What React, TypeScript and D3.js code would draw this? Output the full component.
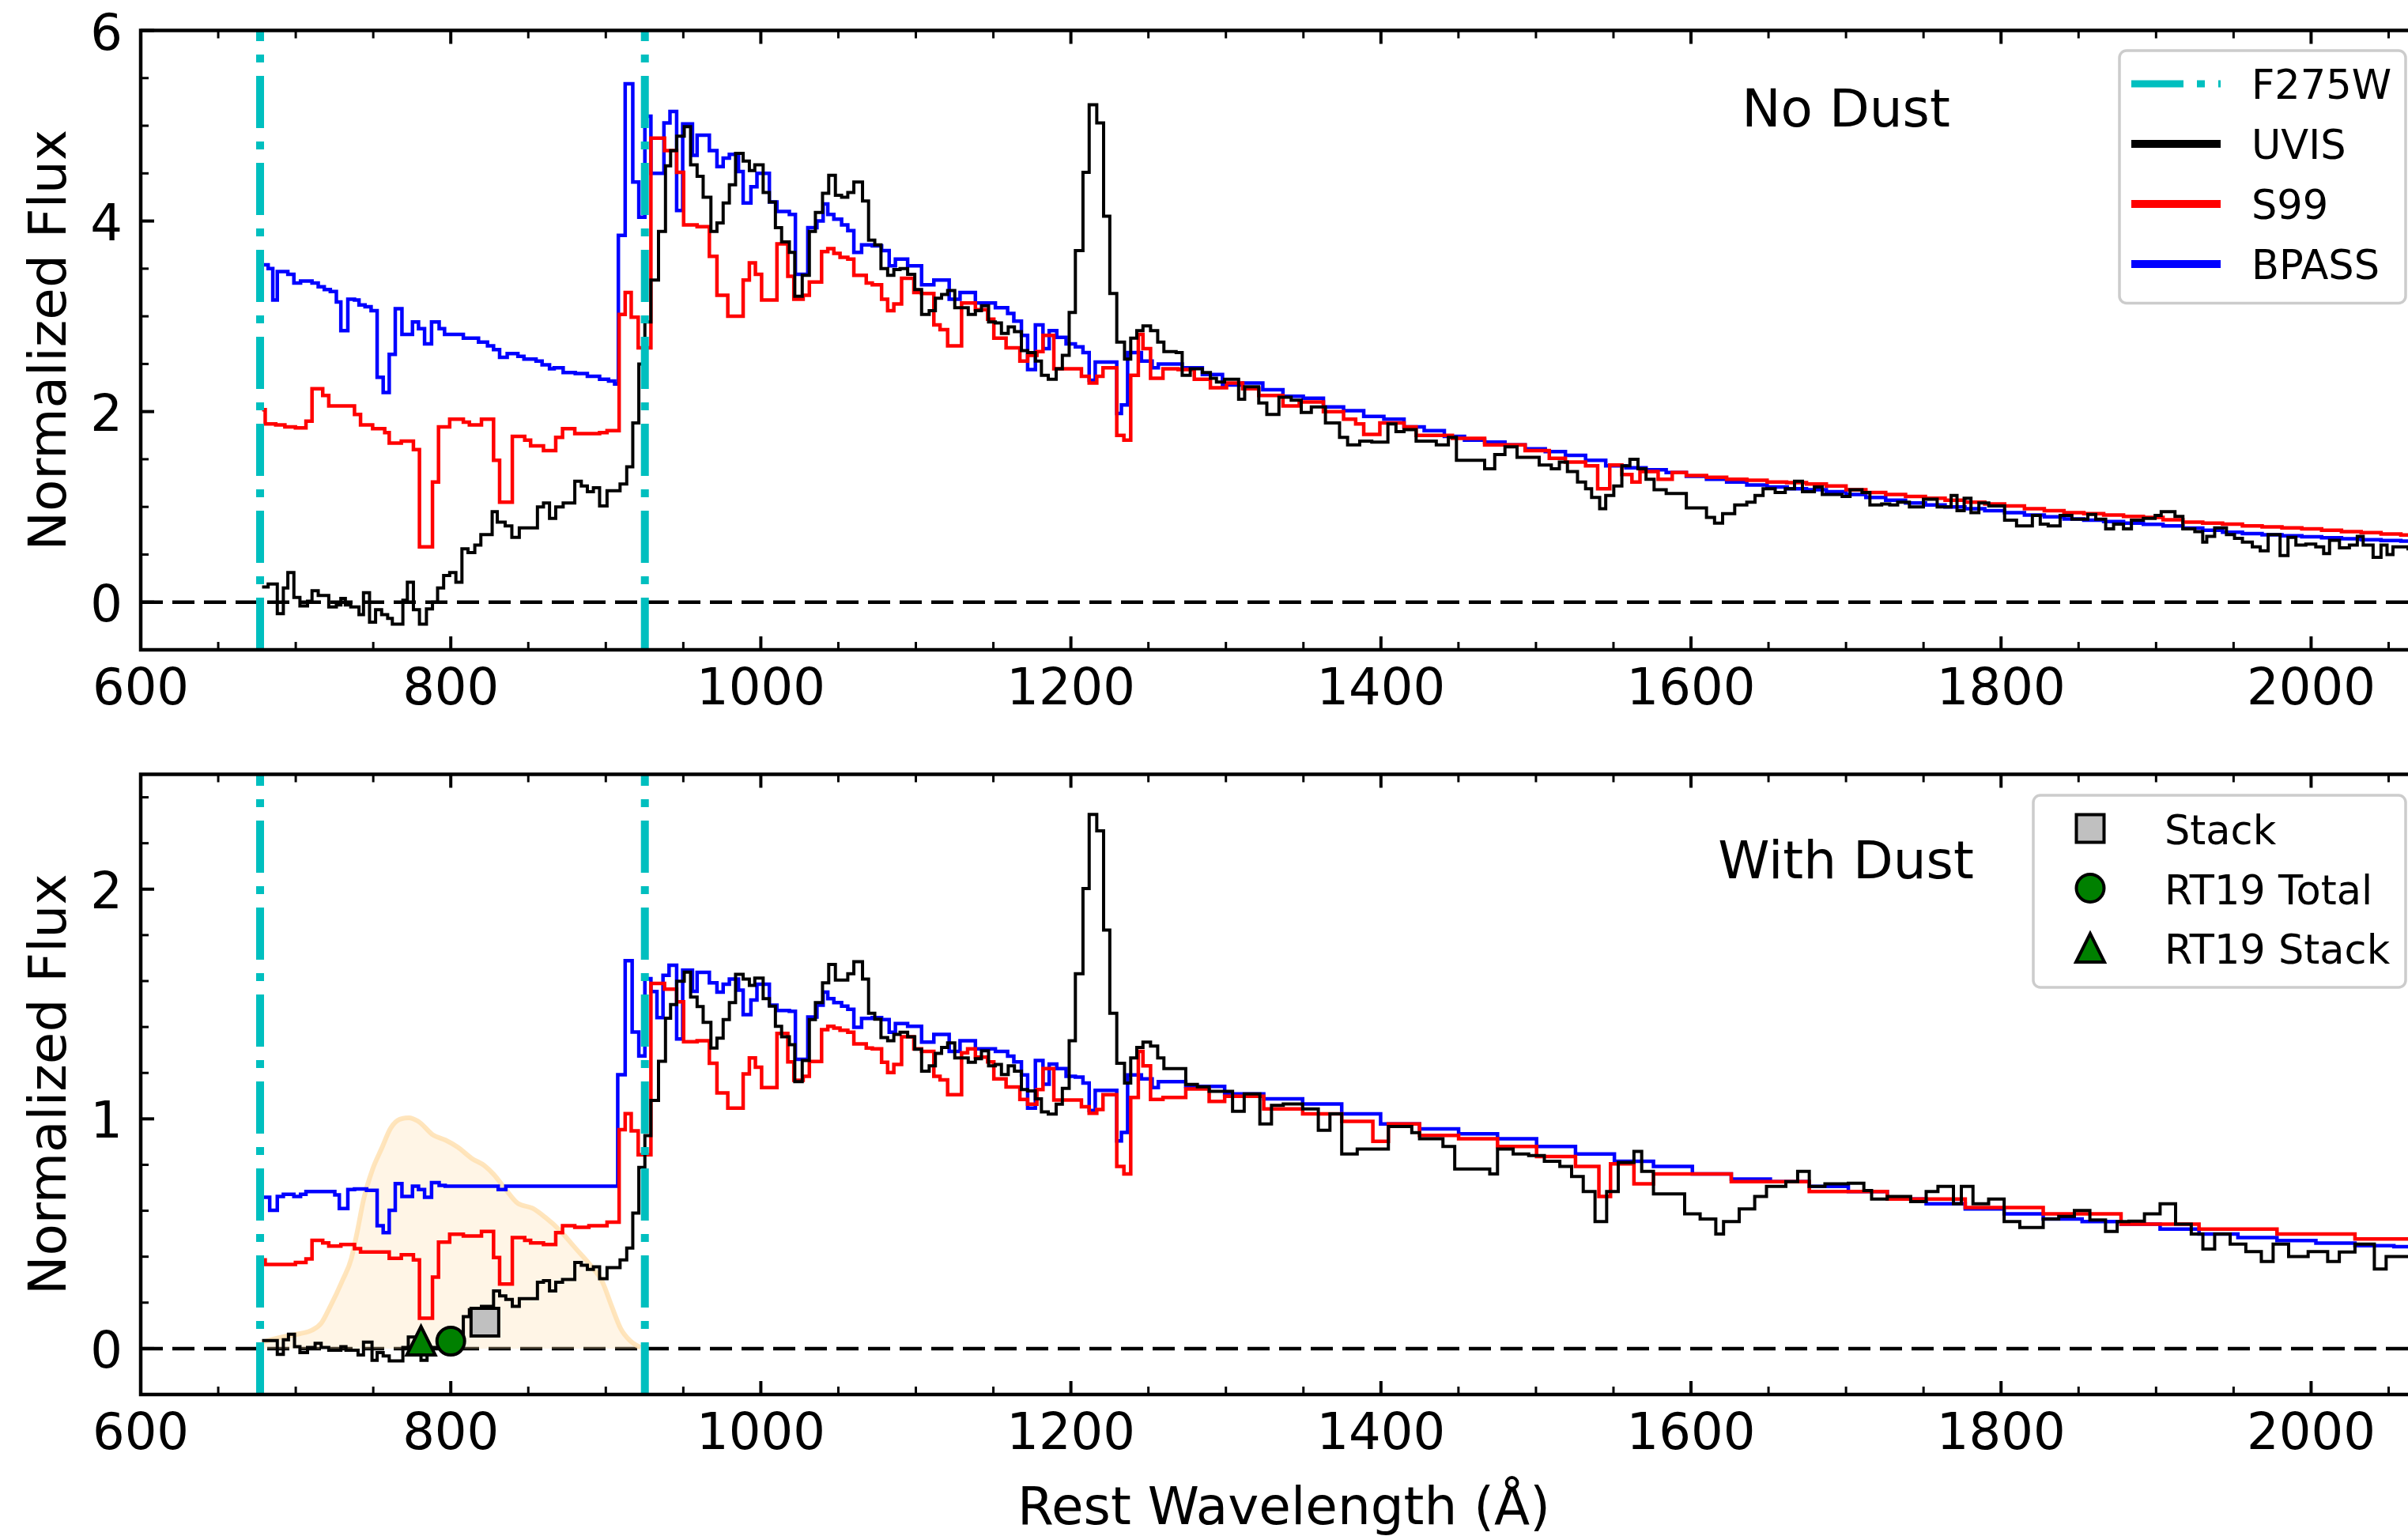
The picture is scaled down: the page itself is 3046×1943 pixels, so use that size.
import React from 'react';
import * as d3 from 'd3';

type Pt = [number, number];

// ---------- DATA (rest wavelength in Angstrom, normalized flux) ----------
const UVIS_NODUST: Pt[] = [[678.3,0.16],[682.2,0.19],[688.1,-0.12],[692.0,0.15],[694.9,0.31],[698.8,0.05],[702.7,-0.04],[707.6,0.01],[710.5,0.12],[714.5,0.07],[721.3,-0.05],[726.2,-0.03],[729.1,0.04],[732.0,-0.03],[735.5,-0.05],[740.8,-0.13],[743.7,0.1],[747.6,-0.21],[751.5,-0.08],[755.4,-0.13],[759.3,-0.17],[762.3,-0.23],[769.1,0.02],[772.0,0.21],[775.9,-0.08],[779.8,-0.23],[784.3,-0.07],[788.2,0.0],[791.5,0.15],[795.4,0.28],[799.3,0.31],[803.3,0.21],[807.2,0.56],[811.1,0.52],[815.5,0.6],[819.4,0.71],[826.7,0.95],[830.0,0.84],[835.1,0.8],[839.4,0.68],[844.2,0.78],[855.9,1.0],[859.8,1.04],[863.7,0.88],[867.7,1.0],[872.5,1.04],[880.0,1.27],[884.2,1.22],[888.1,1.16],[892.0,1.2],[896.0,1.01],[900.8,1.17],[909.2,1.24],[913.5,1.42],[917.4,1.88],[921.3,2.5],[925.2,2.94],[929.1,3.38],[934.0,3.89],[938.5,4.58],[941.8,4.74],[945.7,4.89],[950.6,4.99],[954.7,4.59],[958.9,4.47],[962.8,4.25],[967.8,3.89],[971.7,3.98],[975.7,4.19],[979.7,4.38],[983.7,4.71],[988.6,4.63],[992.6,4.53],[996.1,4.59],[1001.5,4.3],[1005.5,4.2],[1009.4,3.93],[1013.4,3.78],[1018.4,3.67],[1021.9,3.21],[1026.7,3.43],[1031.3,3.89],[1035.2,4.09],[1039.8,4.29],[1043.8,4.48],[1048.1,4.27],[1052.1,4.25],[1056.1,4.3],[1060.0,4.41],[1065.6,4.21],[1069.5,3.8],[1073.5,3.75],[1077.5,3.5],[1081.8,3.43],[1085.8,3.49],[1089.8,3.5],[1094.7,3.44],[1099.3,3.28],[1103.7,3.02],[1108.6,3.06],[1112.6,3.19],[1116.6,3.23],[1120.5,3.27],[1125.1,3.09],[1133.8,3.02],[1138.4,3.06],[1142.3,3.11],[1146.9,2.94],[1151.3,2.93],[1155.2,2.82],[1159.6,2.89],[1163.6,2.84],[1168.1,2.64],[1172.1,2.62],[1177.1,2.53],[1181.0,2.38],[1185.4,2.34],[1190.5,2.45],[1194.5,2.59],[1198.9,3.04],[1202.9,3.69],[1207.8,4.51],[1211.8,5.22],[1216.7,5.03],[1221.1,4.05],[1225.1,3.24],[1229.6,2.73],[1234.6,2.55],[1238.6,2.77],[1242.5,2.85],[1246.5,2.9],[1251.4,2.85],[1256.0,2.73],[1260.0,2.63],[1267.9,2.62],[1271.8,2.38],[1277.0,2.45],[1284.8,2.41],[1290.0,2.35],[1293.9,2.31],[1299.1,2.34],[1308.2,2.13],[1312.1,2.26],[1321.2,2.09],[1326.4,1.97],[1334.2,2.15],[1342.1,2.12],[1348.6,1.99],[1355.1,2.05],[1364.2,1.88],[1373.3,1.73],[1378.5,1.65],[1386.3,1.69],[1394.1,1.68],[1404.5,1.87],[1409.7,1.79],[1414.9,1.81],[1422.7,1.69],[1435.7,1.65],[1443.5,1.73],[1448.7,1.49],[1466.9,1.4],[1473.4,1.55],[1480.0,1.63],[1487.8,1.52],[1502.1,1.44],[1509.9,1.4],[1515.1,1.47],[1520.3,1.37],[1526.8,1.26],[1532.0,1.19],[1535.9,1.1],[1541.1,0.98],[1545.0,1.12],[1550.2,1.22],[1555.4,1.43],[1560.6,1.5],[1565.8,1.4],[1571.0,1.29],[1576.2,1.18],[1584.0,1.14],[1597.0,0.99],[1610.0,0.89],[1615.2,0.83],[1620.4,0.93],[1628.2,1.02],[1636.0,1.05],[1641.3,1.12],[1646.5,1.19],[1654.3,1.15],[1660.8,1.19],[1666.8,1.27],[1671.9,1.16],[1679.6,1.21],[1684.7,1.13],[1697.5,1.11],[1702.6,1.18],[1710.3,1.15],[1715.4,1.02],[1723.0,1.03],[1728.2,1.02],[1733.3,1.05],[1740.9,1.0],[1749.9,1.08],[1758.8,1.0],[1767.8,1.12],[1771.6,0.96],[1776.2,1.09],[1780.6,0.94],[1785.7,1.04],[1792.1,1.01],[1802.3,0.86],[1810.0,0.8],[1820.2,0.91],[1825.3,0.82],[1830.4,0.8],[1838.1,0.91],[1845.7,0.87],[1856.0,0.92],[1861.1,0.87],[1867.5,0.77],[1872.6,0.82],[1879.0,0.77],[1884.1,0.86],[1891.8,0.88],[1899.4,0.91],[1903.3,0.95],[1912.2,0.9],[1917.3,0.77],[1925.0,0.74],[1930.1,0.63],[1932.7,0.69],[1937.8,0.78],[1945.4,0.71],[1950.6,0.67],[1955.7,0.63],[1962.1,0.58],[1967.2,0.54],[1972.3,0.71],[1980.0,0.49],[1985.1,0.68],[1990.2,0.6],[1996.6,0.61],[2003.0,0.58],[2008.1,0.51],[2011.9,0.65],[2018.3,0.57],[2024.7,0.6],[2029.8,0.69],[2033.6,0.6],[2040.0,0.47],[2045.1,0.6],[2049.0,0.5],[2052.8,0.58],[2062.5,0.56]];

const S99_NODUST: Pt[] = [[678.3,2.02],[680.3,1.87],[687.1,1.86],[693.0,1.84],[699.8,1.83],[706.6,1.9],[710.5,2.24],[717.4,2.17],[721.3,2.06],[737.9,1.97],[741.8,1.86],[749.6,1.82],[757.4,1.78],[760.3,1.67],[768.1,1.69],[775.9,1.6],[779.8,0.58],[788.2,1.26],[792.1,1.84],[799.3,1.92],[808.1,1.89],[812.0,1.86],[819.8,1.92],[827.6,1.49],[831.5,1.05],[839.7,1.74],[847.7,1.7],[851.5,1.64],[859.8,1.59],[867.7,1.73],[872.1,1.82],[880.0,1.77],[896.0,1.78],[900.8,1.8],[908.6,3.02],[912.5,3.25],[916.4,2.99],[920.9,2.67],[929.1,4.87],[937.9,4.74],[945.7,4.51],[950.2,3.96],[958.9,3.94],[966.8,3.63],[971.7,3.22],[978.7,3.0],[988.6,3.38],[992.6,3.56],[996.5,3.44],[1000.5,3.17],[1010.4,3.76],[1017.4,3.42],[1021.3,3.18],[1027.3,3.22],[1031.3,3.36],[1039.2,3.68],[1043.2,3.71],[1047.1,3.66],[1051.1,3.62],[1056.1,3.6],[1060.0,3.43],[1068.0,3.35],[1071.9,3.33],[1077.9,3.18],[1081.8,3.06],[1085.8,3.13],[1090.8,3.4],[1098.7,3.25],[1103.7,3.24],[1111.6,2.91],[1115.6,2.86],[1120.5,2.69],[1129.5,3.14],[1133.4,3.14],[1138.4,3.07],[1146.3,2.97],[1150.3,2.77],[1158.2,2.67],[1167.1,2.53],[1172.1,2.59],[1178.1,2.63],[1182.0,2.8],[1189.0,2.45],[1206.8,2.37],[1211.8,2.3],[1216.7,2.37],[1220.7,2.46],[1229.6,1.75],[1234.2,1.7],[1238.6,2.38],[1243.5,2.81],[1246.5,2.66],[1251.4,2.35],[1259.4,2.45],[1269.2,2.44],[1279.6,2.34],[1290.0,2.25],[1300.4,2.3],[1310.8,2.24],[1321.2,2.17],[1336.8,2.06],[1347.3,2.1],[1362.9,2.0],[1375.9,1.92],[1383.7,1.87],[1388.9,1.76],[1399.3,1.88],[1414.9,1.84],[1422.7,1.75],[1446.1,1.72],[1466.9,1.65],[1493.0,1.59],[1508.6,1.51],[1519.0,1.47],[1532.0,1.43],[1539.8,1.19],[1547.6,1.44],[1555.4,1.34],[1561.9,1.26],[1567.1,1.37],[1578.8,1.29],[1587.9,1.36],[1597.0,1.33],[1610.0,1.31],[1623.0,1.29],[1636.0,1.28],[1649.1,1.26],[1661.7,1.255],[1674.5,1.24],[1687.3,1.22],[1700.0,1.18],[1712.8,1.15],[1725.6,1.13],[1738.4,1.11],[1751.2,1.09],[1763.9,1.07],[1776.7,1.05],[1789.5,1.03],[1802.3,1.01],[1815.1,0.98],[1827.9,0.96],[1840.6,0.94],[1853.4,0.93],[1866.2,0.915],[1879.0,0.9],[1891.8,0.89],[1904.5,0.865],[1917.3,0.84],[1930.1,0.83],[1942.9,0.82],[1955.7,0.8],[1968.4,0.79],[1981.2,0.78],[1994.0,0.77],[2006.8,0.755],[2019.6,0.74],[2032.3,0.73],[2045.1,0.715],[2057.9,0.705]];

const BPASS_NODUST: Pt[] = [[678.3,3.54],[682.2,3.5],[685.2,3.17],[688.1,3.47],[694.9,3.44],[698.8,3.35],[703.1,3.37],[710.5,3.35],[714.5,3.31],[718.4,3.28],[722.3,3.26],[726.2,3.15],[729.1,2.85],[733.6,3.18],[737.9,3.17],[740.8,3.12],[744.7,3.1],[748.6,3.06],[752.5,2.36],[756.4,2.2],[760.3,2.6],[764.2,3.08],[768.5,2.81],[775.3,2.94],[779.2,2.87],[783.1,2.71],[787.6,2.94],[792.5,2.87],[796.0,2.81],[808.1,2.77],[817.9,2.73],[823.7,2.69],[827.6,2.65],[831.5,2.57],[836.4,2.61],[843.3,2.58],[847.2,2.55],[855.0,2.53],[858.9,2.49],[863.7,2.45],[866.7,2.46],[872.5,2.41],[880.3,2.4],[888.1,2.37],[896.0,2.34],[901.8,2.32],[905.7,2.29],[908.1,3.85],[912.5,5.44],[917.4,4.41],[921.3,4.04],[925.2,5.1],[929.1,4.5],[937.5,5.03],[941.4,5.15],[945.7,4.11],[949.6,5.02],[955.9,4.69],[958.9,4.9],[966.8,4.74],[971.7,4.57],[975.7,4.66],[979.7,4.7],[985.6,4.52],[988.6,4.19],[993.6,4.36],[997.5,4.5],[1005.5,4.2],[1010.4,4.1],[1018.4,4.07],[1022.3,3.44],[1030.3,3.93],[1036.2,4.0],[1040.2,4.18],[1043.2,4.07],[1047.1,4.02],[1052.1,3.96],[1056.1,3.9],[1060.0,3.67],[1065.0,3.75],[1071.9,3.74],[1077.9,3.69],[1082.8,3.53],[1086.8,3.6],[1094.7,3.53],[1103.7,3.33],[1111.6,3.38],[1121.5,3.18],[1128.5,3.25],[1138.4,3.14],[1151.3,3.09],[1159.2,3.03],[1163.2,2.95],[1168.1,2.8],[1172.1,2.44],[1177.1,2.91],[1182.0,2.66],[1186.0,2.85],[1190.9,2.78],[1196.9,2.71],[1202.9,2.68],[1207.8,2.62],[1211.8,2.33],[1215.7,2.52],[1229.6,1.98],[1232.6,2.07],[1236.6,2.62],[1245.5,2.53],[1252.4,2.46],[1256.4,2.5],[1271.8,2.46],[1284.8,2.39],[1297.8,2.28],[1310.8,2.3],[1323.8,2.23],[1336.8,2.16],[1349.9,2.14],[1362.9,2.05],[1375.9,2.01],[1388.9,1.95],[1401.9,1.92],[1414.9,1.84],[1427.9,1.8],[1440.9,1.74],[1453.9,1.7],[1466.9,1.68],[1480.0,1.65],[1493.0,1.61],[1506.0,1.58],[1519.0,1.54],[1532.0,1.49],[1545.0,1.43],[1558.0,1.41],[1571.0,1.39],[1584.0,1.36],[1597.0,1.32],[1610.0,1.29],[1623.0,1.26],[1636.0,1.23],[1649.1,1.21],[1662.1,1.19],[1674.5,1.18],[1687.3,1.16],[1700.0,1.13],[1712.8,1.1],[1725.6,1.07],[1738.4,1.04],[1751.2,1.02],[1763.9,1.0],[1776.7,0.98],[1789.5,0.96],[1802.3,0.94],[1815.1,0.915],[1827.9,0.895],[1840.6,0.873],[1853.4,0.86],[1866.2,0.846],[1879.0,0.83],[1891.8,0.818],[1904.5,0.8],[1917.3,0.777],[1930.1,0.755],[1942.9,0.735],[1955.7,0.72],[1968.4,0.708],[1981.2,0.697],[1994.0,0.686],[2006.8,0.676],[2019.6,0.666],[2032.3,0.656],[2045.1,0.647],[2057.9,0.64]];

const UVIS_DUST: Pt[] = [[678.3,0.035],[688.1,-0.025],[692.0,0.038],[695.3,0.062],[699.2,0.008],[702.7,-0.018],[707.6,0.005],[712.5,0.023],[716.4,0.005],[721.3,-0.007],[729.1,0.008],[732.4,-0.007],[740.2,-0.028],[743.7,0.028],[749.2,-0.051],[752.5,-0.018],[756.4,-0.032],[760.3,-0.054],[769.1,0.005],[772.6,0.05],[776.9,-0.025],[780.8,-0.051],[784.7,-0.018],[788.6,0.005],[792.5,0.058],[800.3,0.064],[808.1,0.139],[812.0,0.169],[819.8,0.184],[827.6,0.251],[831.5,0.229],[835.5,0.214],[839.7,0.184],[844.2,0.217],[855.9,0.289],[859.8,0.296],[863.7,0.251],[867.7,0.289],[872.1,0.301],[880.0,0.375],[884.2,0.363],[888.1,0.345],[892.0,0.356],[896.0,0.304],[900.8,0.352],[909.2,0.386],[913.5,0.438],[917.4,0.59],[921.3,0.789],[925.2,0.927],[929.1,1.08],[934.0,1.251],[938.5,1.438],[941.8,1.498],[945.7,1.599],[950.6,1.639],[954.7,1.53],[958.9,1.489],[962.8,1.42],[967.8,1.308],[971.7,1.351],[975.7,1.432],[979.7,1.506],[983.7,1.629],[988.6,1.609],[992.6,1.581],[996.1,1.613],[1001.5,1.523],[1005.5,1.491],[1009.4,1.403],[1013.4,1.357],[1018.4,1.323],[1021.9,1.162],[1026.7,1.254],[1031.3,1.432],[1035.2,1.506],[1039.8,1.592],[1043.8,1.672],[1048.1,1.604],[1056.1,1.632],[1060.0,1.684],[1065.6,1.609],[1069.5,1.46],[1073.5,1.434],[1077.5,1.354],[1081.8,1.34],[1085.8,1.368],[1089.8,1.377],[1094.7,1.357],[1099.3,1.303],[1103.7,1.208],[1108.6,1.231],[1112.6,1.285],[1116.6,1.311],[1120.5,1.331],[1125.1,1.265],[1133.8,1.246],[1138.4,1.262],[1142.3,1.296],[1146.9,1.231],[1151.3,1.237],[1155.2,1.193],[1159.6,1.231],[1163.6,1.208],[1168.1,1.128],[1172.1,1.122],[1177.1,1.087],[1181.0,1.03],[1185.4,1.021],[1190.5,1.064],[1194.5,1.133],[1198.9,1.34],[1202.9,1.632],[1207.8,2.003],[1211.8,2.325],[1216.7,2.254],[1221.1,1.822],[1225.1,1.46],[1229.6,1.242],[1234.6,1.156],[1238.6,1.265],[1242.5,1.311],[1246.5,1.334],[1251.4,1.317],[1256.0,1.265],[1260.0,1.219],[1274.1,1.15],[1281.6,1.14],[1289.2,1.12],[1304.3,1.033],[1311.8,1.109],[1321.9,0.978],[1329.4,1.059],[1337.0,1.065],[1349.5,1.043],[1359.6,0.95],[1367.1,1.022],[1374.7,0.847],[1384.7,0.869],[1404.8,0.967],[1419.9,0.94],[1424.9,0.913],[1440.0,0.88],[1447.6,0.782],[1470.2,0.76],[1475.2,0.869],[1485.3,0.847],[1495.3,0.84],[1505.4,0.815],[1515.4,0.793],[1523.0,0.749],[1530.5,0.684],[1538.1,0.553],[1545.6,0.684],[1553.1,0.81],[1563.2,0.858],[1568.2,0.771],[1575.8,0.673],[1595.9,0.586],[1605.9,0.564],[1616.0,0.499],[1621.0,0.553],[1631.1,0.608],[1641.1,0.662],[1648.7,0.706],[1661.2,0.727],[1668.8,0.771],[1676.3,0.706],[1686.4,0.717],[1701.5,0.72],[1711.5,0.688],[1716.5,0.651],[1726.6,0.662],[1741.7,0.64],[1751.7,0.684],[1759.3,0.706],[1769.3,0.63],[1774.4,0.706],[1781.9,0.63],[1792.0,0.651],[1802.0,0.553],[1812.1,0.527],[1827.2,0.564],[1837.2,0.575],[1847.3,0.601],[1857.3,0.56],[1867.4,0.51],[1874.9,0.553],[1882.5,0.555],[1892.5,0.586],[1902.6,0.63],[1912.6,0.542],[1922.7,0.499],[1930.2,0.433],[1937.8,0.499],[1947.8,0.455],[1957.9,0.422],[1967.9,0.379],[1975.5,0.455],[1985.5,0.401],[1998.1,0.422],[2010.7,0.379],[2018.2,0.42],[2028.3,0.455],[2040.8,0.346],[2048.4,0.401]];

const S99_DUST: Pt[] = [[678.3,0.386],[680.3,0.366],[699.8,0.375],[706.6,0.39],[710.5,0.471],[717.4,0.46],[721.3,0.446],[729.1,0.453],[737.9,0.435],[741.8,0.42],[760.3,0.393],[768.1,0.408],[775.9,0.386],[779.8,0.132],[788.2,0.311],[792.1,0.463],[799.3,0.498],[808.1,0.49],[819.8,0.51],[827.6,0.396],[831.5,0.281],[839.7,0.483],[847.7,0.471],[851.5,0.46],[859.8,0.453],[867.7,0.505],[872.1,0.535],[880.0,0.528],[889.1,0.535],[900.8,0.55],[908.6,0.953],[912.5,1.023],[916.4,0.948],[920.9,0.844],[929.1,1.59],[937.9,1.565],[945.7,1.51],[950.2,1.336],[958.9,1.34],[966.8,1.242],[971.7,1.113],[978.7,1.047],[988.6,1.196],[992.6,1.265],[996.5,1.225],[1000.5,1.136],[1010.4,1.372],[1017.4,1.248],[1021.3,1.168],[1027.3,1.185],[1031.3,1.25],[1039.2,1.388],[1043.2,1.403],[1047.1,1.395],[1051.1,1.386],[1056.1,1.377],[1060.0,1.326],[1068.0,1.308],[1071.9,1.305],[1077.9,1.246],[1081.8,1.202],[1085.8,1.237],[1090.8,1.357],[1098.7,1.305],[1103.7,1.294],[1111.6,1.185],[1115.6,1.17],[1120.5,1.105],[1129.5,1.288],[1133.4,1.305],[1138.4,1.269],[1146.3,1.248],[1150.3,1.174],[1158.2,1.139],[1167.1,1.085],[1172.1,1.064],[1178.1,1.128],[1182.0,1.219],[1189.0,1.082],[1206.8,1.053],[1211.8,1.024],[1216.7,1.041],[1220.7,1.105],[1229.6,0.793],[1234.2,0.76],[1238.6,1.093],[1243.5,1.294],[1246.5,1.231],[1251.4,1.085],[1259.4,1.093],[1274.1,1.13],[1289.2,1.076],[1299.2,1.098],[1324.4,1.043],[1349.5,1.022],[1374.7,0.989],[1394.8,0.902],[1404.8,0.978],[1424.9,0.928],[1450.1,0.913],[1475.2,0.88],[1500.4,0.836],[1525.5,0.793],[1540.6,0.662],[1548.1,0.804],[1563.2,0.717],[1575.8,0.76],[1626.0,0.727],[1676.3,0.684],[1726.6,0.651],[1776.9,0.614],[1827.2,0.586],[1877.4,0.542],[1927.7,0.52],[1978.0,0.499],[2028.3,0.477]];

const BPASS_DUST: Pt[] = [[678.3,0.659],[683.2,0.602],[688.1,0.662],[692.0,0.672],[698.8,0.662],[703.1,0.672],[706.6,0.684],[725.2,0.669],[728.1,0.61],[733.6,0.692],[737.9,0.695],[745.7,0.689],[752.5,0.535],[756.4,0.505],[760.3,0.602],[764.2,0.718],[768.5,0.662],[775.3,0.707],[779.2,0.692],[783.1,0.659],[787.6,0.722],[792.5,0.71],[796.4,0.707],[830.6,0.692],[835.5,0.707],[907.7,1.192],[912.5,1.689],[917.0,1.378],[921.3,1.274],[925.2,1.61],[929.1,1.554],[933.0,1.441],[936.9,1.625],[940.8,1.669],[945.7,1.348],[949.6,1.647],[955.9,1.555],[958.9,1.638],[966.8,1.592],[971.7,1.552],[975.7,1.586],[979.7,1.609],[985.6,1.56],[988.6,1.454],[993.6,1.517],[997.5,1.586],[1005.5,1.495],[1010.4,1.472],[1018.4,1.468],[1022.3,1.259],[1030.3,1.443],[1036.2,1.495],[1040.2,1.552],[1043.2,1.523],[1047.1,1.506],[1052.1,1.491],[1056.1,1.477],[1060.0,1.399],[1065.0,1.437],[1071.9,1.441],[1077.9,1.432],[1082.8,1.377],[1086.8,1.415],[1094.7,1.403],[1103.7,1.334],[1111.6,1.368],[1121.5,1.294],[1128.5,1.34],[1138.4,1.305],[1151.3,1.294],[1159.2,1.273],[1163.2,1.248],[1168.1,1.191],[1172.1,1.047],[1177.1,1.254],[1182.0,1.151],[1186.0,1.239],[1190.9,1.219],[1196.9,1.185],[1202.9,1.182],[1207.8,1.156],[1211.8,1.036],[1215.7,1.124],[1229.6,0.904],[1232.6,0.941],[1236.6,1.191],[1245.5,1.174],[1252.4,1.136],[1256.4,1.162],[1274.1,1.141],[1299.2,1.109],[1324.4,1.087],[1349.5,1.065],[1374.7,1.022],[1399.8,0.978],[1424.9,0.956],[1450.1,0.935],[1475.2,0.913],[1500.4,0.88],[1525.5,0.847],[1550.6,0.815],[1575.8,0.793],[1600.9,0.76],[1626.0,0.738],[1651.2,0.727],[1676.3,0.706],[1701.5,0.684],[1726.6,0.651],[1751.7,0.63],[1776.9,0.608],[1802.0,0.586],[1827.2,0.564],[1852.3,0.553],[1877.4,0.542],[1902.6,0.52],[1927.7,0.499],[1952.8,0.483],[1978.0,0.47],[2003.1,0.459],[2028.3,0.448],[2053.4,0.444]];

const F275W_THROUGHPUT: Pt[] = [[678.3,0.028],[691.0,0.05],[702.7,0.065],[710.5,0.08],[716.4,0.11],[722.3,0.184],[730.1,0.296],[735.9,0.393],[739.8,0.513],[743.7,0.647],[749.6,0.781],[755.4,0.871],[761.3,0.96],[767.1,0.998],[773.0,1.005],[778.9,0.99],[788.6,0.93],[796.4,0.908],[804.2,0.878],[814.0,0.826],[821.8,0.796],[827.6,0.759],[835.5,0.692],[843.3,0.632],[853.0,0.61],[860.8,0.572],[870.6,0.513],[880.3,0.438],[890.1,0.363],[897.9,0.289],[903.8,0.184],[909.6,0.087],[915.5,0.035],[922.3,0.005]];

const F275W_EDGES = [677.0, 925.2];
const STACK_POINT: Pt = [822, 0.115];
const RT19_TOTAL_POINT: Pt = [800, 0.032];
const RT19_STACK_POINT: Pt = [780.8, 0.034];
const SERIES_END = 2080;

const X_MAJOR = [600, 800, 1000, 1200, 1400, 1600, 1800, 2000];
const TOP_Y_MAJOR = [0, 2, 4, 6];
const BOT_Y_MAJOR = [0, 1, 2];
const TOP_LEGEND = ['F275W', 'UVIS', 'S99', 'BPASS'];
const BOT_LEGEND = ['Stack', 'RT19 Total', 'RT19 Stack'];

// ---------- LAYOUT ----------
const W = 3046, H = 1943;
const FONT = 'DejaVu Sans, Verdana, sans-serif';
const CYAN = '#00bfbf';
const DASHDOT = '66 17 10 17';
const X0 = 178, X1 = 3070.5;
const x = d3.scaleLinear().domain([600, 2075]).range([X0, X1]);

const topY = d3.scaleLinear().domain([-0.5, 6]).range([822, 38.5]);
const botY = d3.scaleLinear().domain([-0.2, 2.5]).range([1764, 979.5]);

function stepPath(data: Pt[], y: d3.ScaleLinear<number, number>) {
  const pts: Pt[] = [...data, [SERIES_END, data[data.length - 1][1]]];
  return d3.line<Pt>().x(d => x(d[0])).y(d => y(d[1])).curve(d3.curveStepAfter)(pts) || '';
}

function Axes({ y, majors, minorStep }: { y: d3.ScaleLinear<number, number>; majors: number[]; minorStep: number }) {
  const [yb, yt] = y.range();
  const [d0, d1] = y.domain();
  const xMinor = d3.range(650, 2075, 50).filter(v => v % 200 !== 0);
  const yMinor = d3.range(Math.ceil(d0 / minorStep - 1e-6), Math.floor(d1 / minorStep + 1e-6) + 1)
    .map(i => i * minorStep)
    .filter(v => v > d0 + 1e-6 && v < d1 - 1e-6)
    .filter(v => !majors.some(m => Math.abs(m - v) < 1e-6));
  const MAJ = 17, MIN = 10;
  return (
    <g>
      {X_MAJOR.map(v => (
        <g key={'xM' + v}>
          <line x1={x(v)} x2={x(v)} y1={yb} y2={yb - MAJ} stroke="#000" strokeWidth={4} />
          <line x1={x(v)} x2={x(v)} y1={yt} y2={yt + MAJ} stroke="#000" strokeWidth={4} />
          <text x={x(v)} y={yb + 69} textAnchor="middle" fontSize={64} fontFamily={FONT}>{v}</text>
        </g>
      ))}
      {xMinor.map(v => (
        <g key={'xm' + v}>
          <line x1={x(v)} x2={x(v)} y1={yb} y2={yb - MIN} stroke="#000" strokeWidth={3} />
          <line x1={x(v)} x2={x(v)} y1={yt} y2={yt + MIN} stroke="#000" strokeWidth={3} />
        </g>
      ))}
      {majors.map(v => (
        <g key={'yM' + v}>
          <line x1={X0} x2={X0 + MAJ} y1={y(v)} y2={y(v)} stroke="#000" strokeWidth={4} />
          <text x={155} y={y(v) + 24} textAnchor="end" fontSize={64} fontFamily={FONT}>{v}</text>
        </g>
      ))}
      {yMinor.map(v => (
        <line key={'ym' + v} x1={X0} x2={X0 + MIN} y1={y(v)} y2={y(v)} stroke="#000" strokeWidth={3} />
      ))}
      <rect x={X0} y={yt} width={X1 - X0} height={yb - yt} fill="none" stroke="#000" strokeWidth={4.5} />
      <text transform={`translate(83, ${(yb + yt) / 2}) rotate(-90)`} textAnchor="middle" fontSize={66} fontFamily={FONT}>Normalized Flux</text>
    </g>
  );
}

function Spectra({ y, uvis, s99, bpass, clip }: { y: d3.ScaleLinear<number, number>; uvis: Pt[]; s99: Pt[]; bpass: Pt[]; clip: string }) {
  return (
    <g clipPath={`url(#${clip})`}>
      <path d={stepPath(bpass, y)} fill="none" stroke="#0000ff" strokeWidth={4.5} />
      <path d={stepPath(s99, y)} fill="none" stroke="#ff0000" strokeWidth={4.5} />
      <path d={stepPath(uvis, y)} fill="none" stroke="#000000" strokeWidth={4} />
    </g>
  );
}

const squarePath = (s: number) => `M${-s},${-s}H${s}V${s}H${-s}Z`;
const trianglePath = (s: number) => `M0,${-s}L${s},${s}L${-s},${s}Z`;

function Markers({ y }: { y: d3.ScaleLinear<number, number> }) {
  return (
    <g stroke="#000" strokeWidth={4}>
      <path d={trianglePath(18)} transform={`translate(${x(RT19_STACK_POINT[0])},${y(RT19_STACK_POINT[1])})`} fill="#008000" />
      <circle cx={x(RT19_TOTAL_POINT[0])} cy={y(RT19_TOTAL_POINT[1])} r={17.5} fill="#008000" />
      <path d={squarePath(17.5)} transform={`translate(${x(STACK_POINT[0])},${y(STACK_POINT[1])})`} fill="#c0c0c0" />
    </g>
  );
}

export default function App() {
  const filterArea = d3.area<Pt>().x(d => x(d[0])).y0(botY(0)).y1(d => botY(d[1])).curve(d3.curveMonotoneX)(F275W_THROUGHPUT) || '';
  const filterLine = d3.line<Pt>().x(d => x(d[0])).y(d => botY(d[1])).curve(d3.curveMonotoneX)(F275W_THROUGHPUT) || '';
  const panels = [
    { y: topY, id: 'clipTop' },
    { y: botY, id: 'clipBot' },
  ];
  return (
    <svg width={W} height={H} viewBox={`0 0 ${W} ${H}`} style={{ position: 'absolute', left: 0, top: 0, background: '#fff' }} xmlns="http://www.w3.org/2000/svg">
      <rect x={0} y={0} width={W} height={H} fill="#fff" />
      <defs>
        {panels.map(p => (
          <clipPath id={p.id} key={p.id}>
            <rect x={X0} y={p.y.range()[1]} width={X1 - X0} height={p.y.range()[0] - p.y.range()[1]} />
          </clipPath>
        ))}
      </defs>

      {/* Top panel */}
      <line x1={X0} x2={X1} y1={topY(0)} y2={topY(0)} stroke="#000" strokeWidth={4.5} strokeDasharray="28 12" />
      <Spectra y={topY} uvis={UVIS_NODUST} s99={S99_NODUST} bpass={BPASS_NODUST} clip="clipTop" />
      {F275W_EDGES.map(v => (
        <line key={'ct' + v} x1={x(v)} x2={x(v)} y1={topY.range()[0]} y2={topY.range()[1]} stroke={CYAN} strokeWidth={10} strokeDasharray={DASHDOT} />
      ))}
      <Axes y={topY} majors={TOP_Y_MAJOR} minorStep={0.5} />
      <text x={2335} y={160} textAnchor="middle" fontSize={66} fontFamily={FONT}>No Dust</text>

      {/* Bottom panel */}
      <line x1={X0} x2={X1} y1={botY(0)} y2={botY(0)} stroke="#000" strokeWidth={4.5} strokeDasharray="28 12" />
      <g clipPath="url(#clipBot)">
        <path d={filterArea} fill="#ffdead" fillOpacity={0.3} stroke="none" />
        <path d={filterLine} fill="none" stroke="#ffdead" strokeOpacity={0.8} strokeWidth={6} />
      </g>
      <Spectra y={botY} uvis={UVIS_DUST} s99={S99_DUST} bpass={BPASS_DUST} clip="clipBot" />
      {F275W_EDGES.map(v => (
        <line key={'cb' + v} x1={x(v)} x2={x(v)} y1={botY.range()[0]} y2={botY.range()[1]} stroke={CYAN} strokeWidth={10} strokeDasharray={DASHDOT} />
      ))}
      <Markers y={botY} />
      <Axes y={botY} majors={BOT_Y_MAJOR} minorStep={0.2} />
      <text x={2335} y={1111} textAnchor="middle" fontSize={66} fontFamily={FONT}>With Dust</text>

      <text x={1624} y={1928} textAnchor="middle" fontSize={66} fontFamily={FONT}>Rest Wavelength (Å)</text>

      {/* Top legend */}
      <g>
        <rect x={2681} y={64} width={362} height={319.5} rx={9} fill="#fff" stroke="#cccccc" strokeWidth={3.5} />
        {TOP_LEGEND.map((name, i) => {
          const cy = 106 + i * 76;
          const color = [CYAN, '#000000', '#ff0000', '#0000ff'][i];
          return (
            <g key={name}>
              <line x1={2696} x2={2809} y1={cy} y2={cy} stroke={color} strokeWidth={i === 0 ? 9 : 10} strokeDasharray={i === 0 ? DASHDOT : undefined} />
              <text x={2848} y={cy + 19} fontSize={51} fontFamily={FONT}>{name}</text>
            </g>
          );
        })}
      </g>

      {/* Bottom legend */}
      <g>
        <rect x={2572} y={1006} width={471} height={243} rx={9} fill="#fff" stroke="#cccccc" strokeWidth={3.5} />
        {BOT_LEGEND.map((name, i) => {
          const cy = 1048 + i * 75.5;
          return (
            <g key={name}>
              <g stroke="#000" strokeWidth={4} transform={`translate(2644,${cy})`}>
                {i === 0 && <path d={squarePath(17.5)} fill="#c0c0c0" />}
                {i === 1 && <circle r={17.5} fill="#008000" />}
                {i === 2 && <path d={trianglePath(18)} fill="#008000" />}
              </g>
              <text x={2738} y={cy + 20} fontSize={51} fontFamily={FONT}>{name}</text>
            </g>
          );
        })}
      </g>
    </svg>
  );
}
